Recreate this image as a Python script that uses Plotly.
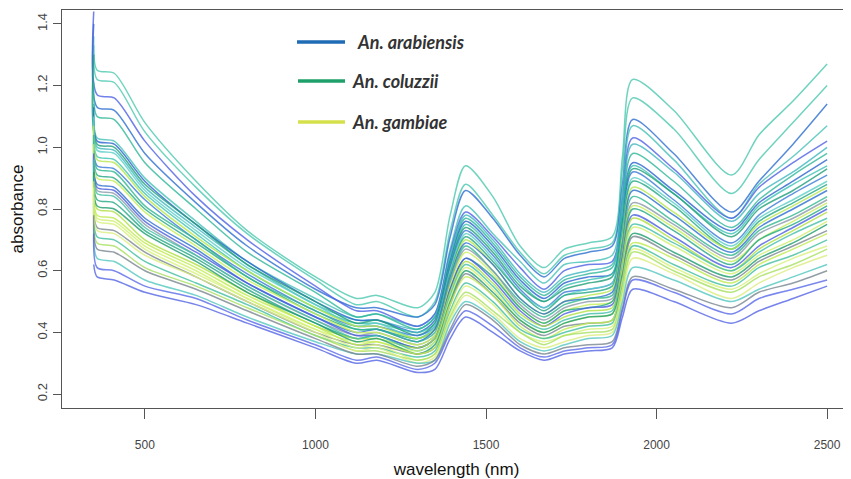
import plotly.graph_objects as go

wavelength = [350, 360, 410, 500, 650, 800, 1000, 1120, 1180, 1300, 1350, 1395, 1440,
              1520, 1600, 1670, 1730, 1800, 1870, 1900, 1930, 2050, 2220, 2300, 2400, 2500]

# absorbance of each spectrum (one list per mosquito)
spectra = [
    [1.36,1.25,1.24,1.08,0.89,0.73,0.58,0.51,0.52,0.48,0.53,0.78,0.94,0.84,0.68,0.61,0.67,0.69,0.71,0.97,1.22,1.12,0.91,1.04,1.15,1.27],
    [1.33,1.22,1.21,1.05,0.87,0.72,0.57,0.49,0.50,0.45,0.50,0.73,0.88,0.78,0.66,0.59,0.65,0.67,0.69,0.93,1.16,1.06,0.85,0.96,1.08,1.20],
    [1.40,1.13,1.12,0.98,0.82,0.68,0.54,0.48,0.48,0.45,0.49,0.71,0.86,0.77,0.65,0.58,0.64,0.66,0.68,0.88,1.09,0.98,0.79,0.89,1.01,1.14],
    [1.14,1.03,1.02,0.90,0.76,0.63,0.51,0.45,0.46,0.42,0.46,0.67,0.81,0.72,0.63,0.56,0.62,0.63,0.65,0.86,1.07,0.96,0.77,0.88,0.97,1.07],
    [1.44,1.17,1.16,1.02,0.84,0.70,0.55,0.47,0.47,0.42,0.46,0.66,0.79,0.71,0.61,0.54,0.60,0.62,0.63,0.83,1.03,0.93,0.77,0.87,0.95,1.02],
    [1.11,1.00,0.99,0.87,0.74,0.62,0.49,0.44,0.44,0.41,0.45,0.65,0.78,0.70,0.59,0.53,0.58,0.60,0.62,0.82,1.01,0.92,0.76,0.85,0.92,1.00],
    [1.21,1.10,1.09,0.95,0.80,0.66,0.53,0.45,0.46,0.41,0.45,0.64,0.77,0.69,0.58,0.52,0.57,0.59,0.61,0.80,0.98,0.89,0.74,0.83,0.91,0.98],
    [1.13,1.02,1.01,0.89,0.75,0.63,0.50,0.44,0.44,0.40,0.44,0.63,0.76,0.68,0.57,0.51,0.56,0.58,0.59,0.77,0.95,0.86,0.73,0.82,0.89,0.96],
    [1.08,0.97,0.96,0.85,0.72,0.60,0.48,0.43,0.43,0.40,0.43,0.62,0.75,0.67,0.56,0.50,0.55,0.57,0.59,0.77,0.94,0.85,0.72,0.81,0.88,0.94],
    [1.30,1.01,1.00,0.88,0.75,0.62,0.50,0.43,0.44,0.39,0.43,0.62,0.74,0.66,0.55,0.50,0.54,0.56,0.58,0.76,0.93,0.85,0.71,0.80,0.86,0.93],
    [1.05,0.94,0.93,0.83,0.70,0.59,0.47,0.42,0.42,0.39,0.42,0.61,0.73,0.65,0.54,0.48,0.53,0.54,0.56,0.74,0.92,0.83,0.69,0.78,0.85,0.91],
    [1.10,0.99,0.98,0.86,0.73,0.61,0.49,0.42,0.43,0.38,0.42,0.60,0.72,0.64,0.53,0.48,0.52,0.54,0.56,0.73,0.90,0.82,0.68,0.77,0.83,0.89],
    [1.02,0.91,0.90,0.80,0.69,0.58,0.46,0.41,0.41,0.38,0.41,0.59,0.71,0.63,0.53,0.47,0.52,0.53,0.55,0.72,0.89,0.81,0.67,0.76,0.82,0.88],
    [1.07,0.96,0.95,0.84,0.71,0.60,0.48,0.42,0.42,0.38,0.41,0.58,0.70,0.62,0.51,0.46,0.50,0.52,0.54,0.71,0.87,0.79,0.67,0.75,0.81,0.87],
    [0.99,0.88,0.87,0.77,0.67,0.56,0.45,0.40,0.41,0.37,0.41,0.58,0.69,0.62,0.51,0.46,0.50,0.51,0.53,0.69,0.86,0.78,0.66,0.74,0.80,0.86],
    [1.04,0.93,0.92,0.81,0.70,0.58,0.47,0.41,0.41,0.37,0.40,0.57,0.68,0.60,0.50,0.45,0.49,0.51,0.52,0.68,0.84,0.76,0.65,0.73,0.78,0.84],
    [0.97,0.86,0.85,0.75,0.65,0.55,0.44,0.39,0.40,0.36,0.39,0.56,0.67,0.60,0.49,0.44,0.48,0.50,0.51,0.67,0.82,0.75,0.64,0.72,0.77,0.83],
    [1.01,0.90,0.89,0.79,0.68,0.57,0.46,0.40,0.40,0.36,0.39,0.55,0.66,0.59,0.48,0.43,0.47,0.49,0.50,0.65,0.81,0.74,0.63,0.70,0.76,0.82],
    [0.94,0.83,0.82,0.73,0.64,0.54,0.43,0.38,0.39,0.35,0.38,0.54,0.64,0.58,0.48,0.43,0.47,0.48,0.50,0.65,0.80,0.73,0.62,0.70,0.75,0.81],
    [0.98,0.87,0.86,0.76,0.66,0.56,0.45,0.39,0.39,0.35,0.38,0.54,0.64,0.57,0.47,0.42,0.46,0.48,0.49,0.64,0.78,0.71,0.61,0.68,0.74,0.80],
    [0.91,0.80,0.79,0.70,0.62,0.53,0.42,0.38,0.38,0.35,0.38,0.53,0.63,0.56,0.46,0.42,0.45,0.47,0.48,0.63,0.77,0.70,0.60,0.67,0.73,0.79],
    [0.96,0.85,0.84,0.74,0.65,0.55,0.44,0.38,0.39,0.34,0.37,0.52,0.62,0.55,0.45,0.41,0.44,0.46,0.47,0.61,0.75,0.69,0.60,0.66,0.72,0.77],
    [0.88,0.77,0.76,0.68,0.60,0.51,0.41,0.37,0.37,0.34,0.37,0.51,0.61,0.54,0.44,0.40,0.43,0.45,0.46,0.60,0.74,0.68,0.59,0.65,0.70,0.76],
    [0.92,0.81,0.80,0.72,0.63,0.53,0.43,0.37,0.38,0.33,0.36,0.50,0.60,0.53,0.44,0.40,0.43,0.45,0.46,0.59,0.72,0.66,0.58,0.64,0.69,0.75],
    [0.85,0.74,0.73,0.66,0.58,0.50,0.40,0.36,0.36,0.33,0.35,0.49,0.59,0.52,0.43,0.39,0.42,0.43,0.44,0.58,0.71,0.65,0.57,0.63,0.68,0.73],
    [0.89,0.78,0.77,0.69,0.61,0.52,0.42,0.36,0.37,0.33,0.35,0.49,0.58,0.52,0.42,0.38,0.41,0.43,0.44,0.57,0.69,0.64,0.56,0.62,0.67,0.72],
    [0.82,0.71,0.70,0.63,0.56,0.49,0.39,0.35,0.35,0.32,0.34,0.47,0.56,0.50,0.41,0.38,0.40,0.42,0.43,0.55,0.68,0.62,0.55,0.61,0.65,0.70],
    [0.87,0.76,0.75,0.67,0.59,0.51,0.41,0.35,0.36,0.31,0.33,0.46,0.55,0.49,0.40,0.37,0.39,0.41,0.42,0.54,0.67,0.61,0.54,0.59,0.64,0.68],
    [0.80,0.69,0.68,0.61,0.55,0.48,0.39,0.34,0.34,0.31,0.33,0.45,0.53,0.47,0.40,0.36,0.39,0.40,0.41,0.53,0.66,0.60,0.53,0.58,0.62,0.67],
    [0.84,0.73,0.72,0.65,0.58,0.50,0.40,0.34,0.35,0.30,0.32,0.44,0.52,0.46,0.38,0.35,0.37,0.39,0.40,0.52,0.64,0.59,0.51,0.56,0.61,0.65],
    [0.75,0.64,0.63,0.57,0.52,0.45,0.37,0.33,0.33,0.30,0.31,0.43,0.50,0.45,0.37,0.34,0.36,0.38,0.39,0.50,0.61,0.57,0.50,0.54,0.58,0.62],
    [0.78,0.67,0.66,0.60,0.54,0.47,0.38,0.33,0.33,0.29,0.31,0.41,0.49,0.44,0.36,0.33,0.35,0.36,0.37,0.48,0.58,0.54,0.48,0.53,0.56,0.60],
    [0.72,0.61,0.60,0.55,0.51,0.44,0.36,0.31,0.32,0.28,0.30,0.40,0.47,0.42,0.35,0.32,0.34,0.35,0.36,0.47,0.57,0.53,0.46,0.51,0.54,0.57],
    [0.62,0.58,0.57,0.53,0.49,0.43,0.35,0.30,0.31,0.27,0.28,0.38,0.45,0.40,0.34,0.31,0.33,0.34,0.35,0.45,0.54,0.50,0.43,0.47,0.51,0.55],
]

# colour of each spectrum
spectrum_colors = [
    "#4cc9b0", "#4cc9b0", "#2d6fd2", "#47c2b8", "#5062e6", "#3fb8c0", "#2fb89a", "#2a64d0",
    "#3cc4b4", "#1f9f7a", "#3a7ad8", "#5cd0c8", "#23a884", "#b5e84a", "#2d6fd2", "#30b890",
    "#8a9aa8", "#c6ef5a", "#23a884", "#4a5fe0", "#b0e040", "#40c0a8", "#d2f070", "#1e9e70",
    "#7a8890", "#c0ec50", "#3fbfa0", "#d8f27a", "#a8e060", "#dcee80", "#55c8c0", "#7a8690",
    "#5a6ae8", "#5566e6",
]

legend_names = ["An. arabiensis", "An. coluzzii", "An. gambiae"]
legend_colors = ["#1f6bb5", "#1fa06a", "#d6e04a"]

y_ticks = [0.2, 0.4, 0.6, 0.8, 1.0, 1.2, 1.4]
x_ticks = [500, 1000, 1500, 2000, 2500]

fig = go.Figure()
for vals, col in zip(spectra, spectrum_colors):
    fig.add_trace(go.Scatter(
        x=wavelength, y=vals, mode="lines",
        line=dict(color=col, width=1.5, shape="spline", smoothing=0.8),
        opacity=0.8, showlegend=False, hoverinfo="skip"))

# the page body adds an 8px offset, so figure coordinates are screen - 8
OFF = 8
W, H = 851 - OFF, 479 - OFF
L, R, T, B = 62 - OFF, 851 - OFF, 10 - OFF, 408 - OFF

def px(x):
    return (x - OFF - L) / (R - L)

def py(y):
    return (B - (y - OFF)) / (B - T)

shapes = []
annotations = []
legend_rows = [(42, 297, 355), (81, 298, 350), (122, 298, 350)]
for (yy, x0, xt), name, col in zip(legend_rows, legend_names, legend_colors):
    shapes.append(dict(type="line", xref="paper", yref="paper",
                       x0=px(x0), x1=px(345), y0=py(yy), y1=py(yy),
                       line=dict(color=col, width=3.5)))
    annotations.append(dict(xref="paper", yref="paper", x=px(xt), y=py(yy),
                            xanchor="left", yanchor="middle", showarrow=False,
                            text=name,
                            font=dict(family="Lato, Liberation Sans", size=18,
                                      color="#333333", style="italic", weight="bold")))

tick_font = dict(family="Liberation Sans Narrow, Liberation Sans, Arial", size=12, color="#444444")

fig.update_layout(
    width=W, height=H,
    margin=dict(l=L, r=W - R, t=T, b=H - B, autoexpand=False),
    paper_bgcolor="white", plot_bgcolor="white",
    shapes=shapes, annotations=annotations,
    xaxis=dict(range=[257, 2570], tickvals=x_ticks, ticktext=[str(v) for v in x_ticks],
               showgrid=False, zeroline=False, showline=True, linecolor="#555555",
               linewidth=1.3, mirror=True, ticks="outside", ticklen=10, tickwidth=1,
               tickcolor="#555555", tickfont=tick_font, ticklabelstandoff=15,
               title=dict(text="wavelength (nm)", standoff=14,
                          font=dict(family="Liberation Sans, Arial", size=17, color="#111111"))),
    yaxis=dict(range=[0.155, 1.445], tickvals=y_ticks, ticktext=[f"{v:.1f}" for v in y_ticks],
               showgrid=False, zeroline=False, showline=True, linecolor="#555555",
               linewidth=1.3, mirror=False, ticks="outside", ticklen=8, tickwidth=1,
               tickcolor="#555555", tickfont=dict(tick_font, size=13), tickangle=-90,
               ticklabelstandoff=1,
               title=dict(text="absorbance", standoff=12,
                          font=dict(family="Liberation Sans, Arial", size=17, color="#111111"))),
)

fig.write_html("out.html")
